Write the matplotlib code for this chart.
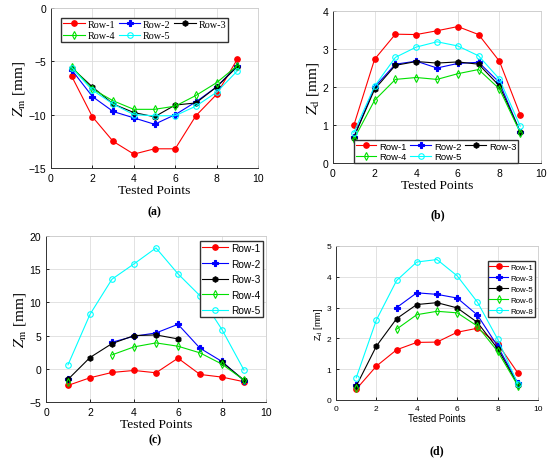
import numpy as np
import matplotlib
matplotlib.use("Agg")
import matplotlib.pyplot as plt

plt.rcParams['mathtext.fontset'] = 'stix'

nan = np.nan
points = [1, 2, 3, 4, 5, 6, 7, 8, 9]

# (a) Z_m
a_rows = ["Row-1", "Row-2", "Row-3", "Row-4", "Row-5"]
a_vals = [
    [-6.4, -10.2, -12.5, -13.7, -13.2, -13.2, -10.1, -8.1, -4.8],
    [-5.8, -8.3, -9.7, -10.3, -10.9, -10.0, -8.8, -7.4, -5.4],
    [-5.6, -7.4, -9.0, -9.8, -10.2, -9.1, -8.9, -7.4, -5.5],
    [-5.5, -7.6, -8.7, -9.5, -9.5, -9.2, -8.2, -7.0, -5.4],
    [-5.6, -7.7, -9.0, -10.0, -10.1, -10.1, -9.2, -7.9, -5.9],
]

# (b) Z_d
b_rows = ["Row-1", "Row-2", "Row-3", "Row-4", "Row-5"]
b_vals = [
    [0.99, 2.73, 3.39, 3.38, 3.48, 3.59, 3.38, 2.68, 1.27],
    [0.68, 2.00, 2.60, 2.68, 2.50, 2.62, 2.65, 2.12, 0.82],
    [0.67, 1.94, 2.57, 2.67, 2.63, 2.66, 2.60, 2.03, 0.82],
    [0.62, 1.65, 2.20, 2.25, 2.20, 2.35, 2.46, 1.95, 0.80],
    [0.80, 2.02, 2.78, 3.05, 3.19, 3.08, 2.82, 2.21, 0.97],
]

# (c) Z_m
c_rows = ["Row-1", "Row-2", "Row-3", "Row-4", "Row-5"]
c_vals = [
    [-2.5, -1.35, -0.55, -0.25, -0.6, 1.6, -0.85, -1.25, -1.95],
    [-1.6, nan, 4.0, 4.9, 5.4, 6.7, 3.1, 1.1, -1.8],
    [-1.6, 1.7, 3.8, 5.0, 5.1, 4.5, nan, 1.0, -1.7],
    [-2.0, nan, 2.1, 3.3, 3.9, 3.4, 2.4, 0.7, -1.7],
    [0.6, 8.2, 13.5, 15.8, 18.2, 14.3, 11.0, 5.9, -0.2],
]

# (d) Z_d
d_rows = ["Row-1", "Row-3", "Row-5", "Row-6", "Row-8"]
d_vals = [
    [0.35, 1.10, 1.63, 1.87, 1.88, 2.20, 2.33, 1.83, 0.88],
    [0.50, nan, 3.00, 3.48, 3.43, 3.31, 2.76, 1.75, 0.55],
    [0.45, 1.75, 2.64, 3.10, 3.16, 2.99, 2.52, 1.67, 0.50],
    [0.40, nan, 2.30, 2.77, 2.88, 2.83, 2.40, 1.58, 0.47],
    [0.72, 2.60, 3.88, 4.48, 4.56, 4.03, 3.18, 1.98, 0.53],
]

colors = ['#ff0000', '#0000ff', '#000000', '#00e000', '#00ffff']
markers = ['o', 'P', 'h', 'd', 'o']
filled = [True, True, True, False, False]

W, H = 550, 460
fig = plt.figure(figsize=(5.5, 4.6), dpi=100)


def box(l, t, r, b):
    return [l / W, 1 - b / H, (r - l) / W, (b - t) / H]


def panel(rect, rows, vals, ylim, yticks, ylabel, sans, tick_fs, lab_fs, ylab_fs):
    ax = fig.add_axes(rect)
    lab_family = 'Liberation Sans' if sans else 'Liberation Serif'
    for i, (name, v) in enumerate(zip(rows, vals)):
        ax.plot(points, v, color=colors[i], lw=0.8, marker=markers[i],
                ms=4, mew=0.8,
                mfc=colors[i] if filled[i] else 'none', label=name)
    ax.set_xlim(0, 10)
    ax.set_ylim(*ylim)
    ax.set_xticks([0, 2, 4, 6, 8, 10])
    ax.set_yticks(yticks)
    ax.grid(True, color='#dddddd', lw=0.6)
    ax.set_axisbelow(True)
    ax.tick_params(direction='in', length=2.5, width=0.6,
                   labelsize=tick_fs, top=False, right=False)
    for lbl in ax.get_xticklabels() + ax.get_yticklabels():
        lbl.set_family('Liberation Sans')
    for s in ['left', 'bottom']:
        ax.spines[s].set_color('#333333')
        ax.spines[s].set_linewidth(0.7)
    for s in ['top', 'right']:
        ax.spines[s].set_color('#cccccc')
        ax.spines[s].set_linewidth(0.6)
    ax.set_xlabel('Tested Points', family=lab_family, fontsize=lab_fs, labelpad=1)
    ax.set_ylabel(ylabel, family=lab_family, fontsize=ylab_fs, labelpad=1)
    return ax


def row_legend(ax, **kw):
    # legend filled row by row (3 columns)
    h, l = ax.get_legend_handles_labels()
    order = [0, 3, 1, 4, 2]
    return ax.legend([h[i] for i in order], [l[i] for i in order], ncol=3, **kw)


leg_style = dict(frameon=True, fancybox=False, edgecolor='#333333', framealpha=1,
                 handletextpad=0.3, borderpad=0.2, borderaxespad=0)

ax_a = panel(box(51, 9, 258, 169), a_rows, a_vals, (-15, 0), [-15, -10, -5, 0],
             r'$Z_{\mathrm{m}}$ [mm]', False, 7.5, 9.7, 11)
row_legend(ax_a, loc='upper left', bbox_to_anchor=(0.05, 0.94),
           prop={'family': 'Liberation Serif', 'size': 7.3},
           handlelength=2.1, columnspacing=0.35, labelspacing=0.25, **leg_style)

ax_b = panel(box(333, 12, 541, 164), b_rows, b_vals, (0, 4), [0, 1, 2, 3, 4],
             r'$Z_{\mathrm{d}}$ [mm]', False, 7.5, 9.7, 11)
row_legend(ax_b, loc='lower left', bbox_to_anchor=(0.1, 0.0),
           prop={'family': 'Liberation Sans', 'size': 6.8},
           handlelength=2.2, columnspacing=0.4, labelspacing=0.15, **leg_style)

ax_c = panel(box(46, 237, 266, 403), c_rows, c_vals, (-5, 20), [-5, 0, 5, 10, 15, 20],
             r'$Z_{\mathrm{m}}$ [mm]', False, 7.5, 9.7, 11)
ax_c.legend(loc='upper right', bbox_to_anchor=(0.985, 0.97),
            prop={'family': 'Liberation Sans', 'size': 7.3},
            handlelength=2.6, labelspacing=0.55, **leg_style)

ax_d = panel(box(336, 247, 538, 401), d_rows, d_vals, (0, 5), [0, 1, 2, 3, 4, 5],
             r'Z$_{\mathrm{d}}$ [mm]', True, 6, 6.9, 6.5)
ax_d.legend(loc='upper right', bbox_to_anchor=(0.985, 0.9),
            prop={'family': 'Liberation Sans', 'size': 5.7},
            handlelength=2.4, labelspacing=0.45, **leg_style)

for lab, x, y in [('(a)', 154, 212), ('(b)', 438, 215), ('(c)', 155, 440), ('(d)', 437, 451)]:
    fig.text(x / W, 1 - y / H, lab, ha='center', va='center',
             family='Liberation Serif', fontweight='bold', fontsize=8.5)

fig.savefig('out.png', dpi=100)
